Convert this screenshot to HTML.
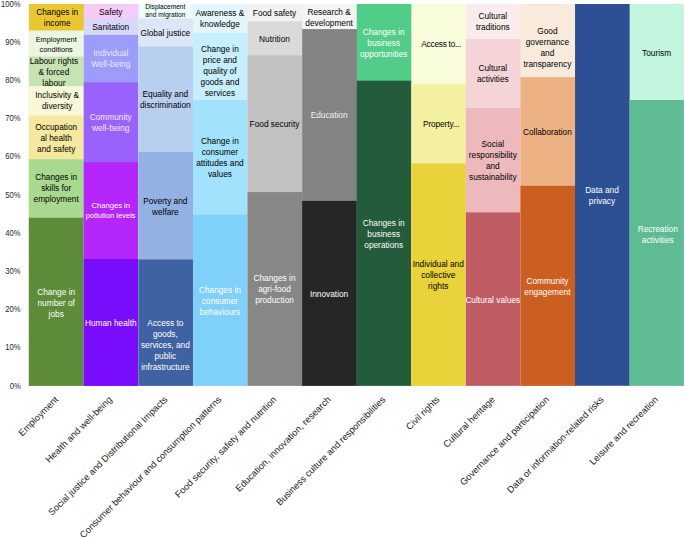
<!DOCTYPE html>
<html><head><meta charset="utf-8"><style>
html,body{margin:0;padding:0;background:#fff;}
body{width:685px;height:537px;position:relative;overflow:hidden;font-family:"Liberation Sans",sans-serif;}
.seg{position:absolute;}
.lab{position:absolute;text-align:center;white-space:nowrap;line-height:11px;font-size:8.3px;}
.yl{position:absolute;font-size:8.8px;color:#262626;line-height:10px;text-align:right;transform-origin:100% 50%;transform:scaleX(0.87);}
.xl{position:absolute;white-space:nowrap;font-size:9.3px;color:#1a1a1a;line-height:10px;transform-origin:100% 50%;transform:rotate(-45deg);}
</style></head><body>

<svg width="685" height="537" style="position:absolute;left:0;top:0"><rect x="28.90" y="4.00" width="55.93" height="381.80" fill="#EAC730"/><rect x="28.90" y="30.50" width="55.93" height="355.30" fill="#EBF6E1"/><rect x="28.90" y="56.60" width="55.93" height="329.20" fill="#C6E4B3"/><rect x="28.90" y="86.10" width="55.93" height="299.70" fill="#F8F8D9"/><rect x="28.90" y="115.60" width="55.93" height="270.20" fill="#F4E99F"/><rect x="28.90" y="159.20" width="55.93" height="226.60" fill="#A9D98F"/><rect x="28.90" y="217.80" width="55.93" height="168.00" fill="#5E8C3B"/><rect x="83.83" y="4.00" width="55.58" height="381.80" fill="#F6CBF6"/><rect x="83.83" y="18.30" width="55.58" height="367.50" fill="#D8D8FB"/><rect x="83.83" y="34.90" width="55.58" height="350.90" fill="#9C9CFA"/><rect x="83.83" y="82.30" width="55.58" height="303.50" fill="#9A62FD"/><rect x="83.83" y="162.30" width="55.58" height="223.50" fill="#B426FB"/><rect x="83.83" y="259.00" width="55.58" height="126.80" fill="#790CFB"/><rect x="138.41" y="4.00" width="55.58" height="381.80" fill="#EDFCFC"/><rect x="138.41" y="18.30" width="55.58" height="367.50" fill="#DCE6F6"/><rect x="138.41" y="46.60" width="55.58" height="339.20" fill="#B9CFEF"/><rect x="138.41" y="151.90" width="55.58" height="233.90" fill="#93B1E3"/><rect x="138.41" y="259.50" width="55.58" height="126.30" fill="#3F62A2"/><rect x="192.99" y="4.00" width="55.58" height="381.80" fill="#E3F6FD"/><rect x="192.99" y="32.80" width="55.58" height="353.00" fill="#C7EEFC"/><rect x="192.99" y="100.00" width="55.58" height="285.80" fill="#A3E2FC"/><rect x="192.99" y="214.80" width="55.58" height="171.00" fill="#80D0FC"/><rect x="247.57" y="4.00" width="55.58" height="381.80" fill="#F2F2F2"/><rect x="247.57" y="21.20" width="55.58" height="364.60" fill="#DADADA"/><rect x="247.57" y="55.40" width="55.58" height="330.40" fill="#C1C1C1"/><rect x="247.57" y="192.10" width="55.58" height="193.70" fill="#878787"/><rect x="302.15" y="4.00" width="55.58" height="381.80" fill="#F4F4F4"/><rect x="302.15" y="29.10" width="55.58" height="356.70" fill="#838383"/><rect x="302.15" y="200.90" width="55.58" height="184.90" fill="#262626"/><rect x="356.73" y="4.00" width="55.58" height="381.80" fill="#52CD89"/><rect x="356.73" y="80.70" width="55.58" height="305.10" fill="#235B3B"/><rect x="411.31" y="4.00" width="55.58" height="381.80" fill="#F8FCDB"/><rect x="411.31" y="83.90" width="55.58" height="301.90" fill="#F3F0A1"/><rect x="411.31" y="163.40" width="55.58" height="222.40" fill="#EAD23A"/><rect x="465.89" y="4.00" width="55.58" height="381.80" fill="#FAEBEC"/><rect x="465.89" y="39.00" width="55.58" height="346.80" fill="#F5D4D8"/><rect x="465.89" y="108.00" width="55.58" height="277.80" fill="#EEB9BD"/><rect x="465.89" y="212.40" width="55.58" height="173.40" fill="#C05C64"/><rect x="520.47" y="4.00" width="55.58" height="381.80" fill="#F9EBDC"/><rect x="520.47" y="77.10" width="55.58" height="308.70" fill="#EDB284"/><rect x="520.47" y="185.80" width="55.58" height="200.00" fill="#CB5F21"/><rect x="575.05" y="4.00" width="55.58" height="381.80" fill="#2D4F93"/><rect x="629.63" y="4.00" width="54.23" height="381.80" fill="#C3F6DF"/><rect x="629.63" y="100.00" width="54.23" height="285.80" fill="#5FBB93"/></svg>
<div class="yl" style="right:664.60px;top:380.50px">0%</div>
<div class="yl" style="right:664.60px;top:342.32px">10%</div>
<div class="yl" style="right:664.60px;top:304.14px">20%</div>
<div class="yl" style="right:664.60px;top:265.96px">30%</div>
<div class="yl" style="right:664.60px;top:227.78px">40%</div>
<div class="yl" style="right:664.60px;top:189.60px">50%</div>
<div class="yl" style="right:664.60px;top:151.42px">60%</div>
<div class="yl" style="right:664.60px;top:113.24px">70%</div>
<div class="yl" style="right:664.60px;top:75.06px">80%</div>
<div class="yl" style="right:664.60px;top:36.88px">90%</div>
<div class="yl" style="right:664.60px;top:-1.30px">100%</div>
<div class="lab" style="left:9.90px;top:7.25px;width:94.58px;color:#000000">Changes in<br>income</div>
<div class="lab" style="left:8.90px;top:34.80px;width:94.58px;color:#000000;font-size:7.4px;line-height:9.75px">Employment<br>conditions</div>
<div class="lab" style="left:6.60px;top:55.85px;width:94.58px;color:#000000">Labour rights<br>&amp; forced<br>labour</div>
<div class="lab" style="left:9.90px;top:89.85px;width:94.58px;color:#000000">Inclusivity &amp;<br>diversity</div>
<div class="lab" style="left:8.90px;top:121.90px;width:94.58px;color:#000000">Occupation<br>al health<br>and safety</div>
<div class="lab" style="left:8.90px;top:172.20px;width:94.58px;color:#000000">Changes in<br>skills for<br>employment</div>
<div class="lab" style="left:8.90px;top:286.80px;width:94.58px;color:#ffffff">Change in<br>number of<br>jobs</div>
<div class="xl" style="right:628.71px;top:392.80px">Employment</div>
<div class="lab" style="left:63.48px;top:6.65px;width:94.58px;color:#000000">Safety</div>
<div class="lab" style="left:63.48px;top:22.10px;width:94.58px;color:#000000">Sanitation</div>
<div class="lab" style="left:63.48px;top:47.80px;width:94.58px;color:#E8E8FF">Individual<br>Well-being</div>
<div class="lab" style="left:63.48px;top:112.30px;width:94.58px;color:#F2EAFF">Community<br>well-being</div>
<div class="lab" style="left:63.48px;top:201.35px;width:94.58px;color:#ffffff;font-size:7.6px;line-height:9.6px">Changes in<br>pollution levels</div>
<div class="lab" style="left:63.48px;top:317.90px;width:94.58px;color:#ffffff">Human health</div>
<div class="xl" style="right:574.13px;top:392.80px">Health and well-being</div>
<div class="lab" style="left:118.06px;top:2.85px;width:94.58px;color:#000000;font-size:6.6px;line-height:8.5px">Displacement<br>and migration</div>
<div class="lab" style="left:118.06px;top:27.95px;width:94.58px;color:#000000">Global justice</div>
<div class="lab" style="left:118.06px;top:89.25px;width:94.58px;color:#000000">Equality and<br>discrimination</div>
<div class="lab" style="left:118.06px;top:195.70px;width:94.58px;color:#000000">Poverty and<br>welfare</div>
<div class="lab" style="left:118.06px;top:318.35px;width:94.58px;color:#ffffff">Access to<br>goods,<br>services, and<br>public<br>infrastructure</div>
<div class="xl" style="right:519.55px;top:392.80px">Social justice and Distributional Impacts</div>
<div class="lab" style="left:172.64px;top:7.70px;width:94.58px;color:#000000">Awareness &amp;<br>knowledge</div>
<div class="lab" style="left:172.64px;top:43.50px;width:94.58px;color:#000000">Change in<br>price and<br>quality of<br>goods and<br>services</div>
<div class="lab" style="left:172.64px;top:136.30px;width:94.58px;color:#000000">Change in<br>consumer<br>attitudes and<br>values</div>
<div class="lab" style="left:172.64px;top:284.80px;width:94.58px;color:#ffffff">Changes in<br>consumer<br>behaviours</div>
<div class="xl" style="right:464.97px;top:392.80px">Consumer behaviour and consumption patterns</div>
<div class="lab" style="left:227.22px;top:8.10px;width:94.58px;color:#000000">Food safety</div>
<div class="lab" style="left:227.22px;top:33.80px;width:94.58px;color:#000000">Nutrition</div>
<div class="lab" style="left:227.22px;top:119.25px;width:94.58px;color:#000000">Food security</div>
<div class="lab" style="left:227.22px;top:273.15px;width:94.58px;color:#ffffff">Changes in<br>agri-food<br>production</div>
<div class="xl" style="right:410.39px;top:392.80px">Food security, safety and nutrition</div>
<div class="lab" style="left:281.80px;top:6.95px;width:94.58px;color:#000000">Research &amp;<br>development</div>
<div class="lab" style="left:281.80px;top:110.30px;width:94.58px;color:#F2F2F2">Education</div>
<div class="lab" style="left:281.80px;top:288.85px;width:94.58px;color:#ffffff">Innovation</div>
<div class="xl" style="right:355.81px;top:392.80px">Education, innovation, research</div>
<div class="lab" style="left:336.38px;top:26.85px;width:94.58px;color:#ffffff">Changes in<br>business<br>opportunities</div>
<div class="lab" style="left:336.38px;top:217.75px;width:94.58px;color:#ffffff">Changes in<br>business<br>operations</div>
<div class="xl" style="right:301.23px;top:392.80px">Business culture and responsibilities</div>
<div class="lab" style="left:393.96px;top:39.25px;width:94.58px;color:#000000;letter-spacing:-0.25px">Access to...</div>
<div class="lab" style="left:393.96px;top:119.15px;width:94.58px;color:#000000;letter-spacing:-0.1px">Property...</div>
<div class="lab" style="left:390.96px;top:259.10px;width:94.58px;color:#000000">Individual and<br>collective<br>rights</div>
<div class="xl" style="right:246.65px;top:392.80px">Civil rights</div>
<div class="lab" style="left:445.54px;top:10.70px;width:94.58px;color:#000000">Cultural<br>traditions</div>
<div class="lab" style="left:445.54px;top:62.70px;width:94.58px;color:#000000">Cultural<br>activities</div>
<div class="lab" style="left:445.54px;top:138.70px;width:94.58px;color:#000000">Social<br>responsibility<br>and<br>sustainability</div>
<div class="lab" style="left:445.54px;top:294.60px;width:94.58px;color:#ffffff">Cultural values</div>
<div class="xl" style="right:192.07px;top:392.80px">Cultural heritage</div>
<div class="lab" style="left:500.12px;top:25.55px;width:94.58px;color:#000000">Good<br>governance<br>and<br>transparency</div>
<div class="lab" style="left:500.12px;top:126.95px;width:94.58px;color:#000000">Collaboration</div>
<div class="lab" style="left:500.12px;top:275.80px;width:94.58px;color:#ffffff">Community<br>engagement</div>
<div class="xl" style="right:137.49px;top:392.80px">Governance and participation</div>
<div class="lab" style="left:554.70px;top:184.90px;width:94.58px;color:#ffffff">Data and<br>privacy</div>
<div class="xl" style="right:82.91px;top:392.80px">Data or information-related risks</div>
<div class="lab" style="left:609.28px;top:47.50px;width:94.58px;color:#000000">Tourism</div>
<div class="lab" style="left:610.48px;top:224.10px;width:94.58px;color:#ffffff">Recreation<br>activities</div>
<div class="xl" style="right:28.33px;top:392.80px">Leisure and recreation</div>
</body></html>
